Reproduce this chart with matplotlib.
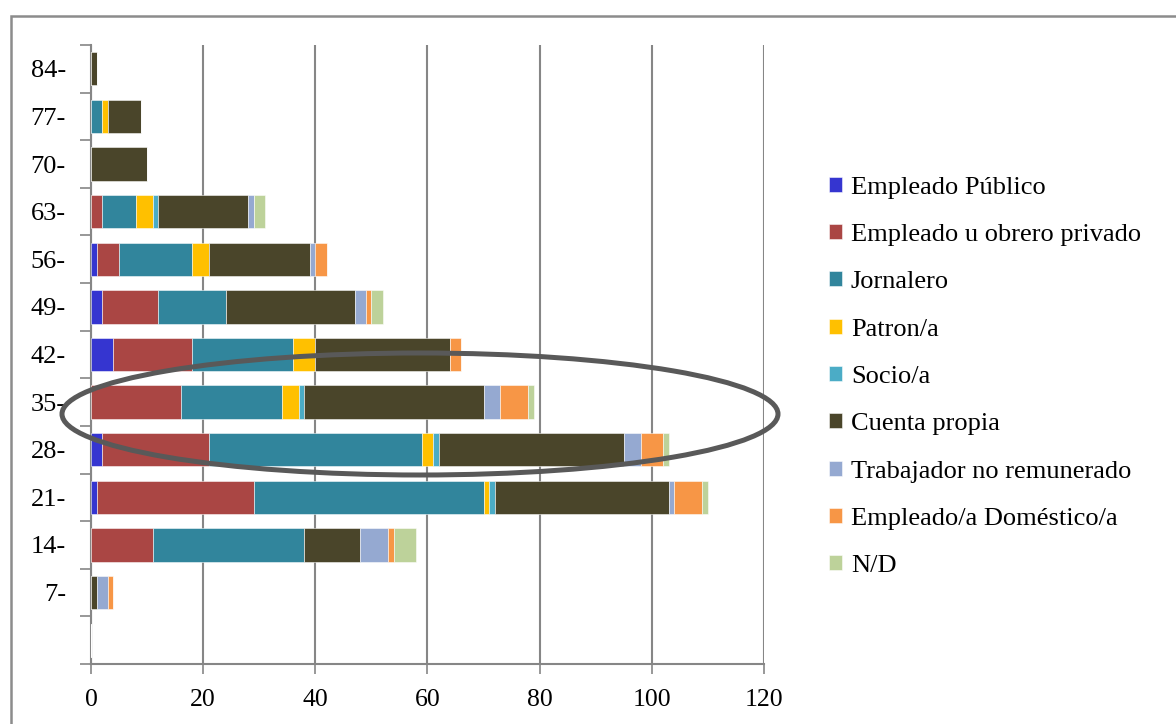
import matplotlib
matplotlib.use('Agg')
import matplotlib.pyplot as plt
from matplotlib.patches import Ellipse, Rectangle
import numpy as np

plt.rcParams['font.family'] = ['Liberation Serif', 'DejaVu Serif']

# age groups, bottom to top (first one is the empty row)
edades = ['', '7-', '14-', '21-', '28-', '35-', '42-', '49-', '56-', '63-', '70-', '77-', '84-']

series = ['Empleado Público', 'Empleado u obrero privado', 'Jornalero', 'Patron/a',
          'Socio/a', 'Cuenta propia', 'Trabajador no remunerado',
          'Empleado/a Doméstico/a', 'N/D']

empleado_publico = [0, 0, 0, 1, 2, 0, 4, 2, 1, 0, 0, 0, 0]
obrero_privado   = [0, 0, 11, 28, 19, 16, 14, 10, 4, 2, 0, 0, 0]
jornalero        = [0, 0, 27, 41, 38, 18, 18, 12, 13, 6, 0, 2, 0]
patron           = [0, 0, 0, 1, 2, 3, 4, 0, 3, 3, 0, 1, 0]
socio            = [0, 0, 0, 1, 1, 1, 0, 0, 0, 1, 0, 0, 0]
cuenta_propia    = [0, 1, 10, 31, 33, 32, 24, 23, 18, 16, 10, 6, 1]
no_remunerado    = [0, 2, 5, 1, 3, 3, 0, 2, 1, 1, 0, 0, 0]
domestico        = [0, 1, 1, 5, 4, 5, 2, 1, 2, 0, 0, 0, 0]
nd               = [0, 0, 4, 1, 1, 1, 0, 2, 0, 2, 0, 0, 0]

valores = [empleado_publico, obrero_privado, jornalero, patron, socio,
           cuenta_propia, no_remunerado, domestico, nd]
colores = ['#3535D0', '#AA4644', '#31859C', '#FFC000', '#4BACC6',
           '#4A452A', '#95A9D1', '#F79646', '#BDD29A']

fig = plt.figure(figsize=(11.76, 7.24), dpi=100)
ax = fig.add_axes([91/1176, 1 - 664/724, (764 - 91)/1176, (664 - 45)/724])

y = np.arange(len(edades))
left = np.zeros(len(edades))
for nombre, vals, col in zip(series, valores, colores):
    vals = np.array(vals, dtype=float)
    ax.barh(y, vals, left=left, height=0.7, color=col, label=nombre,
            edgecolor=(1, 1, 1, 0.6), linewidth=0.6, zorder=3)
    left += vals

ax.set_xlim(0, 120)
ax.set_ylim(-0.5, len(edades) - 0.5)
ax.set_xticks(np.arange(0, 121, 20))
ax.tick_params(axis='x', labelsize=18.5, length=7, width=1.2, color='#868686', pad=11)

# category boundaries get the tick marks, labels sit in the middle
ax.set_yticks(np.arange(-0.5, len(edades), 1))
ax.set_yticklabels([])
ax.set_yticks(y, minor=True)
ax.set_yticklabels(edades, minor=True, fontsize=19)
ax.tick_params(axis='y', which='major', length=8, width=1.2, color='#868686')
ax.tick_params(axis='y', which='minor', length=0, pad=18)

ax.grid(axis='x', color='#868686', linewidth=1.5, zorder=0)
ax.set_axisbelow(True)
for s in ['top', 'right']:
    ax.spines[s].set_visible(False)
for s in ['left', 'bottom']:
    ax.spines[s].set_color('#868686')
    ax.spines[s].set_linewidth(1.5)

fig.legend(loc='upper left', bbox_to_anchor=(818/1176, 1 - 166/724), frameon=False,
           fontsize=19, handlelength=0.5, handleheight=0.5, handletextpad=0.35,
           labelspacing=0.96, borderaxespad=0)

# border of the chart area
fig.patches.append(Rectangle((11/1176, -0.05), 1.1, 1.05 - 16/724,
                             transform=fig.transFigure, fill=False,
                             edgecolor='#8C8C8C', linewidth=1.8))

# ellipse marking the 35- group
fig.patches.append(Ellipse((420/1176, 1 - 414/724), 716/1176, 122/724,
                           transform=fig.transFigure, fill=False,
                           edgecolor='#595959', linewidth=3.6, zorder=10))

fig.savefig('out.png', dpi=100)
